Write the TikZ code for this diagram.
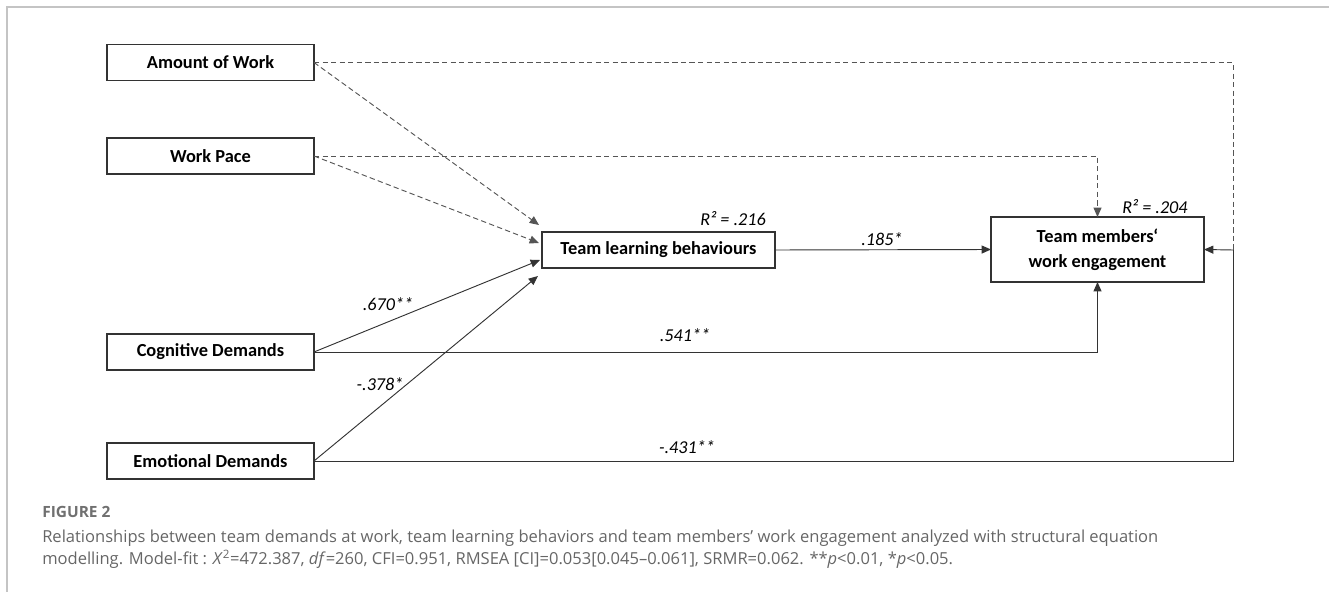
\documentclass[tikz,border=0pt]{standalone}
\usepackage{fontspec}
\setmainfont{Carlito}
\newfontfamily\capfont{Open Sans}
\usetikzlibrary{arrows.meta}
\definecolor{linegray}{HTML}{333333}
\definecolor{dashgray}{HTML}{555555}
\definecolor{framegray}{HTML}{C4C4C4}
\definecolor{captiongray}{HTML}{666666}
\definecolor{headgray}{HTML}{707070}

\begin{document}
\begin{tikzpicture}[x=0.75pt,y=-0.75pt,
  box/.style={draw=linegray, line width=1pt, fill=white, inner sep=0pt, outer sep=0pt,
    minimum width=155.25pt, minimum height=27pt, align=center,
    font=\fontsize{13.8}{18.75}\selectfont\bfseries},
  coef/.style={inner sep=0pt, font=\fontsize{13.6}{15}\selectfont\itshape},
  link/.style={draw=linegray, line width=0.7pt},
  dlink/.style={draw=dashgray, line width=0.7pt, dash pattern=on 4pt off 2.4pt},
  endtip/.style={-{Triangle[length=7pt,width=6pt]}},
  captext/.style={inner sep=0pt, anchor=base west, text=captiongray,
    font=\capfont\fontsize{12.4}{14}\selectfont}
]
\useasboundingbox (0,0) rectangle (1329,592);

% outer frame (top and left edges)
\draw[framegray, line width=1.2pt] (7,592) -- (7,7) -- (1329,7);

% predictor boxes
\node[box] (amount) at (210.5,62.5) {Amount of Work};
\node[box] (pace)   at (210.5,156)  {Work Pace};
\node[box] (cog)    at (210.5,352)  {Cognitive Demands};
\node[box] (emo)    at (210.5,461)  {Emotional Demands};

% mediator and outcome
\node[box, minimum width=174.75pt] (tlb) at (658.5,250) {Team learning behaviours};
\node[box, minimum width=159.75pt, minimum height=48.75pt] (tme) at (1097.5,249.5)
  {Team members‘\\work engagement};

% arrow ends in front of the mediator
\coordinate (inA) at (539,225);
\coordinate (inB) at (539,243);
\coordinate (inC) at (540,260);
\coordinate (inD) at (538,276);
% right-hand collector line
\coordinate (rc) at (1233,250);

% paths into team learning behaviours
\draw[dlink, endtip] (amount.east) -- (inA);
\draw[dlink, endtip] (pace.east) -- (inB);
\draw[link, endtip] (cog.east) -- (inC);
\draw[link, endtip] (emo.east) -- (inD);

% mediator to outcome
\draw[link, endtip] (tlb.east) -- (tme.west);

% direct paths to the outcome
\draw[dlink] (amount.east) -- (amount.east -| rc) -- (rc);
\draw[dlink, endtip] (pace.east) -- (pace.east -| tme.north) -- (tme.north);
\draw[link, endtip] (cog.east) -- (cog.east -| tme.south) -- (tme.south);
\draw[link] (emo.east) -- (emo.east -| rc) -- (rc);
\draw[link, endtip] (rc) -- (tme.east);

% coefficients
\node[coef, anchor=east] (r2a) at (766,219) {R² = .216};
\node[coef, anchor=west] (r2b) at (1122,207) {R² = .204};
\node[coef] (c185) at (882,239) {.185*};
\node[coef] (c670) at (388,304) {.670**};
\node[coef] (c378) at (380,384) {-.378*};
\node[coef] (c541) at (685,335) {.541**};
\node[coef] (c431) at (687,447) {-.431**};

% caption
\node[captext, text=headgray, font=\capfont\bfseries\fontsize{11.6}{13}\selectfont] (fig) at (42,517) {FIGURE 2};
\node[captext] (cap1) at (42,542) {Relationships between team demands at work, team learning behaviors and team members’ work engagement analyzed with structural equation};
\node[captext] (cap2) at (42,564) {modelling. Model-fit : \textit{X}\textsuperscript{2}=472.387, \textit{df}=260, CFI=0.951, RMSEA [CI]=0.053[0.045–0.061], SRMR=0.062. **\textit{p}<0.01, *\textit{p}<0.05.};
\end{tikzpicture}
\end{document}
